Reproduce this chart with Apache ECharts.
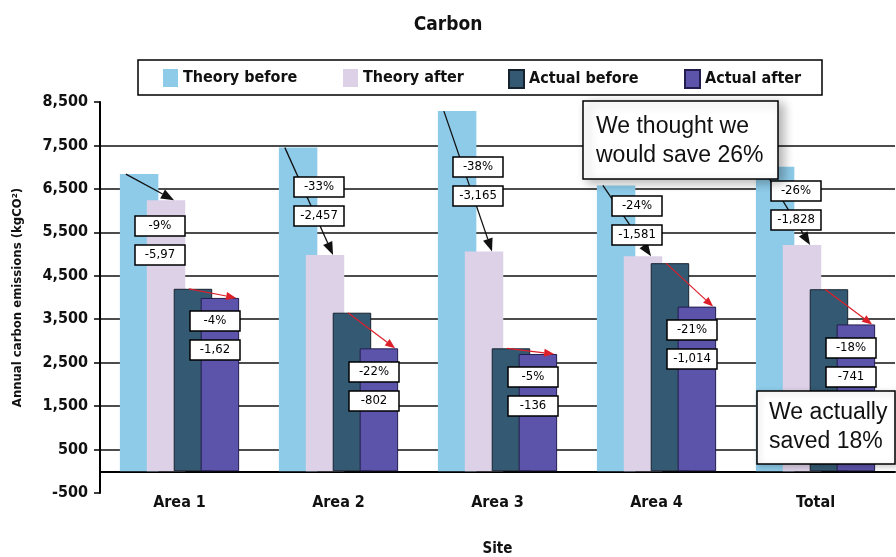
<!DOCTYPE html>
<html><head><meta charset="utf-8">
<script src="https://cdn.jsdelivr.net/npm/echarts@6/dist/echarts.min.js"></script>
<style>html,body{margin:0;padding:0;background:#fff}#c{width:896px;height:557px}</style>
</head><body><div id="c"></div>
<script>
const categories = ['Area 1', 'Area 2', 'Area 3', 'Area 4', 'Total'];
const seriesNames = ['Theory before', 'Theory after', 'Actual before', 'Actual after'];
const theoryBefore = [6840, 7450, 8290, 6580, 7010];
const theoryAfter  = [6240, 4980, 5060, 4950, 5210];
const actualBefore = [4200, 3650, 2830, 4790, 4190];
const actualAfter  = [3990, 2830, 2700, 3790, 3380];
const theoryPctLabels  = ['-9%', '-33%', '-38%', '-24%', '-26%'];
const theoryDiffLabels = ['-5,97', '-2,457', '-3,165', '-1,581', '-1,828'];
const actualPctLabels  = ['-4%', '-22%', '-5%', '-21%', '-18%'];
const actualDiffLabels = ['-1,62', '-802', '-136', '-1,014', '-741'];
const yMin = -500, yMax = 8500, yStep = 1000;
const titleText = 'Carbon';
const xName = 'Site';
const yName = 'Annual carbon emissions (kgCO²)';
const calloutTheory = 'We thought we\nwould save 26%';
const calloutActual = 'We actually\nsaved 18%';

const COND = "'DejaVu Sans Condensed','Liberation Sans Narrow','Roboto Condensed','Liberation Sans',sans-serif";
const PLAIN = "'Liberation Sans',Arial,sans-serif";
const colors = ['#8ecbe9', '#dcd1e7', '#345a73', '#5c54aa'];
const borders = [null, null, '#17222f', '#231d4d'];
const CAT_GAP = 0.25, BAR_GAP = -0.3;

function fmt(v) { return String(v).replace(/\B(?=(\d{3})+(?!\d))/g, ','); }

function arrow(x1, y1, x2, y2, color, len, wid, lw) {
  const a = Math.atan2(y2 - y1, x2 - x1);
  const bx = x2 - len * Math.cos(a), by = y2 - len * Math.sin(a);
  const px = -Math.sin(a) * wid / 2, py = Math.cos(a) * wid / 2;
  return { type: 'group', children: [
    { type: 'line', shape: { x1: x1, y1: y1, x2: bx, y2: by }, style: { stroke: color, lineWidth: lw } },
    { type: 'polygon', shape: { points: [[x2, y2], [bx + px, by + py], [bx - px, by - py]] }, style: { fill: color } }
  ]};
}
function box(cx, cy, text) {
  return { type: 'rect', shape: { x: Math.round(cx - 25), y: Math.round(cy - 10), width: 50, height: 20 },
    style: { fill: '#fff', stroke: '#000', lineWidth: 1.5 },
    textContent: { style: { text: text, fill: '#000', font: '13px ' + COND } },
    textConfig: { position: 'inside' } };
}

function renderAnno(params, api) {
  const i = api.value(0);
  const cx = api.coord([i, 0])[0];
  const band = api.size([1, 0])[0];
  const groupW = band * (1 - CAT_GAP);
  const w = groupW / (4 + 3 * BAR_GAP);
  const step = w * (1 + BAR_GAP);
  const left0 = cx - groupW / 2;
  const L = k => left0 + k * step;
  const Y = v => api.coord([i, v])[1];
  const tbTop = Y(api.value(1)), taTop = Y(api.value(2)), abTop = Y(api.value(3)), aaTop = Y(api.value(4));
  const children = [];
  children.push(arrow(L(0) + 6, tbTop, L(1) + w / 2 + 8, taTop, '#111', 13, 10, 1.3));
  children.push(arrow(L(2) + w / 2 - 4, abTop, L(3) + w - 3, aaTop, '#dd1f2a', 10, 8, 1.2));
  const tx = L(1) + w / 2 - 6;
  const tpc = (taTop - tbTop > 50) ? (tbTop + taTop) / 2 : taTop + 40;
  children.push(box(tx, tpc - 14.5, theoryPctLabels[i]));
  children.push(box(tx, tpc + 14.5, theoryDiffLabels[i]));
  const ax = L(3) + w / 2 - 5;
  const apc = aaTop + 38;
  children.push(box(ax, apc - 14.5, actualPctLabels[i]));
  children.push(box(ax, apc + 14.5, actualDiffLabels[i]));
  return { type: 'group', children: children };
}

const barData = [theoryBefore, theoryAfter, actualBefore, actualAfter];
const legendX = [163, 343, 508, 684];

const chart = echarts.init(document.getElementById('c'), null, { renderer: 'canvas' });
chart.setOption({
  animation: false,
  backgroundColor: '#fff',
  title: { text: titleText, left: 'center', top: 11,
    textStyle: { fontSize: 19, fontWeight: 'bold', fontFamily: COND, color: '#111' } },
  legend: seriesNames.map((n, k) => ({
    data: [n], left: legendX[k], top: 69, padding: 0, itemWidth: 15, itemHeight: 18, itemGap: 0,
    selectedMode: false, icon: 'rect',
    textStyle: { fontSize: 16, fontWeight: 'bold', fontFamily: COND, color: '#111' }
  })),
  grid: { left: 100, right: 1, top: 102, bottom: 64, containLabel: false, outerBoundsMode: 'none' },
  xAxis: {
    type: 'category', data: categories, name: xName, nameLocation: 'middle', nameGap: 49,
    nameTextStyle: { fontSize: 15, fontWeight: 'bold', fontFamily: COND, color: '#111' },
    axisLine: { onZero: true, lineStyle: { color: '#000', width: 2 } },
    axisTick: { show: false },
    axisLabel: { margin: 2, fontSize: 16, fontWeight: 'bold', fontFamily: COND, color: '#111' }
  },
  yAxis: {
    type: 'value', min: yMin, max: yMax, interval: yStep,
    name: yName, nameLocation: 'middle', nameGap: 76, nameRotate: 90,
    nameTextStyle: { fontSize: 13, fontWeight: 'bold', fontFamily: COND, color: '#111' },
    axisLine: { show: true, lineStyle: { color: '#000', width: 2 } },
    axisTick: { show: true, length: 6, lineStyle: { color: '#000', width: 1.5 } },
    axisLabel: { margin: 12, formatter: v => fmt(v), fontSize: 16, fontWeight: 'bold', fontFamily: COND, color: '#111' },
    splitLine: { show: true, showMinLine: false, showMaxLine: false, lineStyle: { color: '#111', width: 1.5 } }
  },
  series: seriesNames.map((n, k) => ({
    name: n, type: 'bar', data: barData[k], barCategoryGap: '25%', barGap: '-30%',
    itemStyle: { color: colors[k], borderColor: borders[k] || colors[k], borderWidth: borders[k] ? 1 : 0 },
    z: 2 + k
  })).concat([{
    type: 'custom', name: 'anno', renderItem: renderAnno, z: 20,
    data: categories.map((c, i) => [i, theoryBefore[i], theoryAfter[i], actualBefore[i], actualAfter[i]]),
    encode: { x: 0, y: [1, 2, 3, 4] }, silent: true, clip: false
  }]),
  graphic: [
    { type: 'rect', shape: { x: 138, y: 60, width: 684, height: 35 }, style: { fill: 'transparent', stroke: '#000', lineWidth: 1.5 }, z: 5 },
    { type: 'rect', shape: { x: 583, y: 101, width: 195, height: 78 }, z: 100,
      style: { fill: '#fff', stroke: '#000', lineWidth: 1.5, shadowBlur: 10, shadowOffsetX: 5, shadowOffsetY: 3, shadowColor: 'rgba(0,0,0,0.3)' } },
    { type: 'text', x: 596, y: 112, z: 101,
      style: { text: calloutTheory, font: '23px ' + PLAIN, lineHeight: 29, fill: '#111', textVerticalAlign: 'top' } },
    { type: 'rect', shape: { x: 757, y: 391, width: 138, height: 73 }, z: 100,
      style: { fill: '#fff', stroke: '#000', lineWidth: 1.5, shadowBlur: 6, shadowOffsetX: 2, shadowOffsetY: 2, shadowColor: 'rgba(0,0,0,0.2)' } },
    { type: 'text', x: 769, y: 398, z: 101,
      style: { text: calloutActual, font: '23px ' + PLAIN, lineHeight: 29, fill: '#111', textVerticalAlign: 'top' } }
  ]
});
</script></body></html>
